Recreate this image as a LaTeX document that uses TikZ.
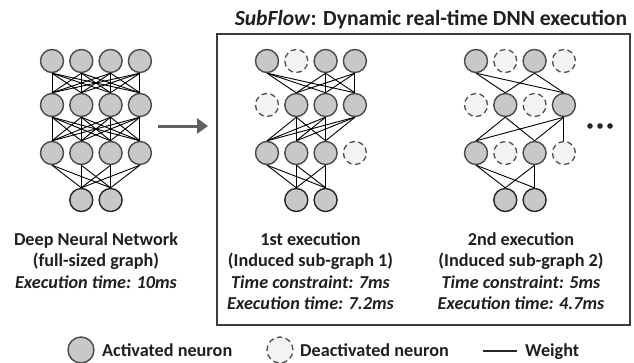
\documentclass[tikz,border=0pt]{standalone}
\usepackage{fontspec}
\setmainfont{Carlito}
\usetikzlibrary{arrows.meta}
\definecolor{actfill}{HTML}{C8C8C8}
\definecolor{actdraw}{HTML}{4A4A4A}
\definecolor{deafill}{HTML}{F2F3F5}
\definecolor{deadraw}{HTML}{505050}
\definecolor{boxdraw}{HTML}{3C3C3C}
\definecolor{arrowgray}{HTML}{606060}
\begin{document}
\begin{tikzpicture}[x=1pt,y=-1pt,
 act/.style={circle,minimum size=23pt,inner sep=0pt,fill=actfill,draw=actdraw,line width=1.4pt},
 outn/.style={act,draw=black!85},
 dea/.style={circle,minimum size=23pt,inner sep=0pt,fill=deafill,draw=deadraw,line width=1.3pt,dash pattern=on 5.5pt off 3.5pt},
 wt/.style={line width=0.9pt,black},
 lbl/.style={font=\fontsize{18.2}{21.5}\selectfont\bfseries,anchor=base,inner sep=0pt,text=black!88},
 ilbl/.style={lbl,font=\fontsize{18.2}{21.5}\selectfont\bfseries\itshape},
]
\fill[white] (0,0) rectangle (634,362);
\useasboundingbox (0,0) rectangle (634,362);

% box and title
\draw[boxdraw,line width=2.5pt] (217,34) rectangle (630,325);
\node[lbl,font=\fontsize{21.6}{24}\selectfont\bfseries] (title) at (431,25) {\textit{SubFlow}: Dynamic real-time DNN execution};

% ---------- Network A (full) ----------
\foreach \c/\x in {1/52,2/81.3,3/110.6,4/139.9}{
  \node[act] (A1\c) at (\x,61) {};
  \node[act] (A2\c) at (\x,105) {};
  \node[act] (A3\c) at (\x,153) {};
}
\node[outn] (A42) at (81.3,200) {};
\node[outn] (A43) at (110.6,200) {};
\foreach \i in {1,...,4}{\foreach \j in {1,...,4}{
  \draw[wt] (A1\i.south) -- (A2\j.north);
  \draw[wt] (A2\i.south) -- (A3\j.north);
}}
\foreach \i in {1,...,4}{\foreach \j in {2,3}{
  \draw[wt] (A3\i.south) -- (A4\j.north);
}}

% ---------- Network B ----------
\node[act] (B11) at (267,61) {};
\node[dea] (B12) at (296.3,61) {};
\node[act] (B13) at (325.6,61) {};
\node[act] (B14) at (354.9,61) {};
\node[dea] (B21) at (267,105) {};
\node[act] (B22) at (296.3,105) {};
\node[act] (B23) at (325.6,105) {};
\node[act] (B24) at (354.9,105) {};
\node[act] (B31) at (267,153) {};
\node[act] (B32) at (296.3,153) {};
\node[act] (B33) at (325.6,153) {};
\node[dea] (B34) at (354.9,153) {};
\node[outn] (B42) at (296.3,200) {};
\node[outn] (B43) at (325.6,200) {};
\foreach \i in {1,3,4}{\foreach \j in {2,3,4}{\draw[wt] (B1\i.south) -- (B2\j.north);}}
\foreach \i in {2,3,4}{\foreach \j in {1,2,3}{\draw[wt] (B2\i.south) -- (B3\j.north);}}
\foreach \i in {1,2,3}{\foreach \j in {2,3}{\draw[wt] (B3\i.south) -- (B4\j.north);}}

% ---------- Network C ----------
\node[act] (C11) at (476,61) {};
\node[dea] (C12) at (505.3,61) {};
\node[act] (C13) at (534.6,61) {};
\node[dea] (C14) at (563.9,61) {};
\node[dea] (C21) at (476,105) {};
\node[act] (C22) at (505.3,105) {};
\node[dea] (C23) at (534.6,105) {};
\node[act] (C24) at (563.9,105) {};
\node[act] (C31) at (476,153) {};
\node[dea] (C32) at (505.3,153) {};
\node[act] (C33) at (534.6,153) {};
\node[dea] (C34) at (563.9,153) {};
\node[outn] (C42) at (505.3,200) {};
\node[outn] (C43) at (534.6,200) {};
\foreach \i in {1,3}{\foreach \j in {2,4}{\draw[wt] (C1\i.south) -- (C2\j.north);}}
\foreach \i in {2,4}{\foreach \j in {1,3}{\draw[wt] (C2\i.south) -- (C3\j.north);}}
\draw[wt] (C24.south) -- (C34.north);
\foreach \i in {1,3}{\foreach \j in {2,3}{\draw[wt] (C3\i.south) -- (C4\j.north);}}

% dots
\foreach \x in {590,600,610}{\fill[black!85] (\x,126) circle (2.8pt);}

% arrow
\coordinate (ar1) at (158,126);
\coordinate (ar2) at (208,126);
\draw[arrowgray,line width=3pt,-{Triangle[length=11pt,width=15pt]}] (ar1) -- (ar2);

% labels
\node[lbl] (a1) at (96,245) {Deep Neural Network};
\node[lbl] (a2) at (96,266.5) {(full-sized graph)};
\node[ilbl] (a3) at (96,288) {Execution time: 10ms};

\node[lbl] (b1) at (310.5,245) {1st execution};
\node[lbl] (b2) at (310.5,266.5) {(Induced sub-graph 1)};
\node[ilbl] (b3) at (310.5,288) {Time constraint: 7ms};
\node[ilbl] (b4) at (310.5,309.5) {Execution time: 7.2ms};

\node[lbl] (c1) at (521,245) {2nd execution};
\node[lbl] (c2) at (521,266.5) {(Induced sub-graph 2)};
\node[ilbl] (c3) at (521,288) {Time constraint: 5ms};
\node[ilbl] (c4) at (521,309.5) {Execution time: 4.7ms};

% legend
\node[act,minimum size=26pt] (lg1) at (81,350) {};
\node[lbl,anchor=base west] (lt1) at (102,356) {Activated neuron};
\node[dea,minimum size=26pt] (lg2) at (280,350) {};
\node[lbl,anchor=base west] (lt2) at (300,356) {Deactivated neuron};
\coordinate (w1) at (483,351);
\coordinate (w2) at (517,351);
\draw[line width=1.6pt,black!85] (w1) -- (w2);
\node[lbl,anchor=base west] (lt3) at (525,356) {Weight};
\end{tikzpicture}
\end{document}
